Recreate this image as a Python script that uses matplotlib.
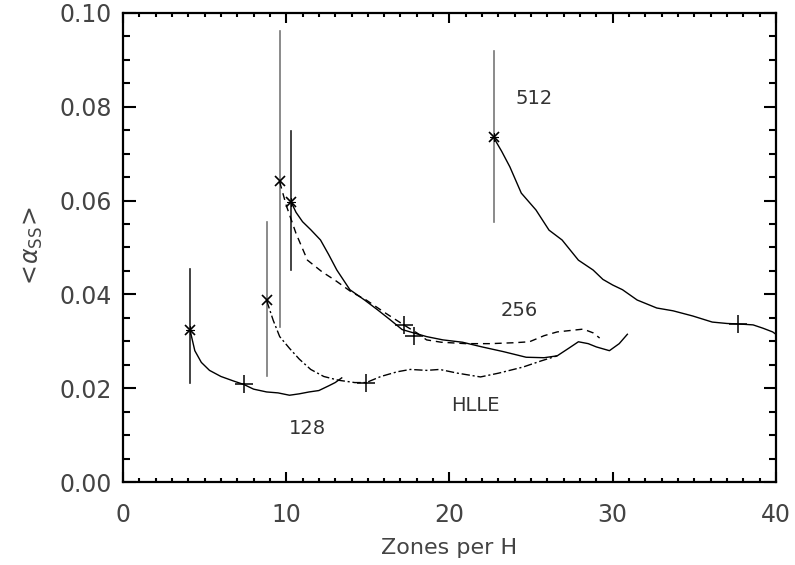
import matplotlib.pyplot as plt
from matplotlib.ticker import MultipleLocator

# 128 zones run (solid)
x128 = [4.1, 4.4, 4.8, 5.3, 6.0, 6.8, 7.4, 8.0, 8.8, 9.5, 10.2, 10.8, 11.4, 12.0, 12.6, 13.0, 13.4]
y128 = [0.0325, 0.028, 0.0255, 0.0238, 0.0225, 0.0215, 0.0208, 0.0198, 0.0192, 0.0190, 0.0185, 0.0188, 0.0192, 0.0195, 0.0205, 0.0212, 0.0222]

# HLLE run (dash-dot)
xhl = [8.8, 9.2, 9.6, 10.2, 10.8, 11.5, 12.3, 13.2, 14.2, 14.9, 15.8, 16.8, 17.6, 18.6, 19.4, 20.5, 21.9, 23.0, 24.5, 25.6, 26.6]
yhl = [0.0387, 0.0345, 0.031, 0.0285, 0.0262, 0.0240, 0.0225, 0.0217, 0.0212, 0.0212, 0.0225, 0.0235, 0.0240, 0.0238, 0.0240, 0.0232, 0.0224, 0.0232, 0.0245, 0.0258, 0.0269]

# 256 zones run (solid)
x256 = [10.3, 10.6, 11.0, 11.5, 12.1, 12.6, 13.1, 13.9, 14.8, 15.6, 16.4, 17.1, 17.8, 18.6, 19.6, 20.8, 22.0, 23.3, 24.7, 25.8, 26.6, 27.3, 27.9, 28.5, 29.0, 29.8, 30.4, 30.9]
y256 = [0.0597, 0.0575, 0.0555, 0.0538, 0.0516, 0.0485, 0.0452, 0.0410, 0.0388, 0.0367, 0.0345, 0.0325, 0.0318, 0.0310, 0.0303, 0.0298, 0.0288, 0.0278, 0.0266, 0.0265, 0.0269, 0.0285, 0.0299, 0.0295, 0.0288, 0.0280, 0.0295, 0.0315]

# 256 zones, second run (dashed)
x256b = [9.6, 10.0, 10.6, 11.3, 12.2, 13.0, 14.0, 14.9, 16.0, 17.2, 18.0, 18.6, 19.5, 21.0, 22.5, 24.0, 24.9, 25.8, 26.6, 27.4, 28.2, 28.8, 29.2]
y256b = [0.0640, 0.0590, 0.0530, 0.0473, 0.0448, 0.0430, 0.0405, 0.0388, 0.0362, 0.0335, 0.0318, 0.0303, 0.0298, 0.0295, 0.0295, 0.0297, 0.0299, 0.0312, 0.0320, 0.0323, 0.0326, 0.0318, 0.0307]

# 512 zones run (solid)
x512 = [22.7, 23.2, 23.7, 24.4, 25.3, 26.1, 26.9, 27.9, 28.8, 29.4, 30.0, 30.6, 31.5, 32.7, 33.7, 34.9, 36.1, 37.0, 37.7, 38.6, 39.2, 39.8, 40.0]
y512 = [0.0735, 0.0705, 0.0672, 0.0616, 0.0580, 0.0537, 0.0516, 0.0473, 0.0452, 0.0432, 0.0420, 0.0410, 0.0388, 0.0371, 0.0365, 0.0354, 0.0341, 0.0338, 0.0337, 0.0335, 0.0328, 0.0320, 0.0315]

# error bars at the starting points
err_x = [4.1, 8.8, 9.6, 10.3, 22.7]
err_lo = [0.0211, 0.0226, 0.0330, 0.0452, 0.0554]
err_hi = [0.0454, 0.0554, 0.0962, 0.0748, 0.0920]
err_col = ['#222222', '#777777', '#777777', '#222222', '#777777']

# + markers along the curves
plus_x = [7.4, 14.9, 17.2, 17.8, 37.7]
plus_y = [0.0208, 0.0212, 0.0335, 0.0312, 0.0337]

# start markers
start_x = [4.1, 8.8, 9.6, 10.3, 22.7]
start_y = [0.0325, 0.0387, 0.0642, 0.0597, 0.0735]
double = [True, False, False, True, True]

labels = ['512', '256', 'HLLE', '128']
lab_x = [25.2, 24.3, 21.6, 11.3]
lab_y = [0.0817, 0.0365, 0.0164, 0.0115]

fig = plt.figure(figsize=(7.95, 5.65), dpi=100)
ax = fig.add_axes([0.1547, 0.1469, 0.8213, 0.8301])

for xe, lo, hi, c in zip(err_x, err_lo, err_hi, err_col):
    ax.plot([xe, xe], [lo, hi], color=c, lw=1.2)

ax.plot(x128, y128, 'k-', lw=1)
ax.plot(xhl, yhl, 'k', lw=1, dashes=[6, 2, 1.5, 2])
ax.plot(x256, y256, 'k-', lw=1)
ax.plot(x256b, y256b, 'k', lw=1, dashes=[5, 3.5])
ax.plot(x512, y512, 'k-', lw=1)

ax.plot(plus_x, plus_y, 'k+', ms=13, mew=1.1, ls='none')
for sx, sy, d in zip(start_x, start_y, double):
    ax.plot(sx, sy, 'kx', ms=7, mew=1.2)
    if d:
        ax.plot(sx, sy, 'k', marker=(4, 2, 0), ms=6, mew=0.8)

for t, lx, ly in zip(labels, lab_x, lab_y):
    ax.text(lx, ly, t, ha='center', va='center', fontsize=14, color='#333333')

ax.set_xlim(0, 40)
ax.set_ylim(0, 0.10)
ax.xaxis.set_major_locator(MultipleLocator(10))
ax.xaxis.set_minor_locator(MultipleLocator(1))
ax.yaxis.set_major_locator(MultipleLocator(0.02))
ax.yaxis.set_minor_locator(MultipleLocator(0.005))
ax.yaxis.set_major_formatter(plt.FormatStrFormatter('%.2f'))
ax.tick_params(which='both', direction='in', top=True, right=True, width=1.5, labelsize=17, colors='k', labelcolor='#444444')
ax.tick_params(axis='x', which='major', length=7, pad=15)
ax.tick_params(axis='x', which='minor', length=3)
ax.tick_params(axis='y', which='major', length=9, pad=8)
ax.tick_params(axis='y', which='minor', length=5)
for s in ax.spines.values():
    s.set_linewidth(1.6)

ax.set_xlabel('Zones per H', fontsize=16, color='#444444', labelpad=8)
ax.set_ylabel(r'$<\!\alpha_{\rm SS}\!>$', fontsize=17, color='#444444', labelpad=10)

fig.savefig('out.png', dpi=100)
